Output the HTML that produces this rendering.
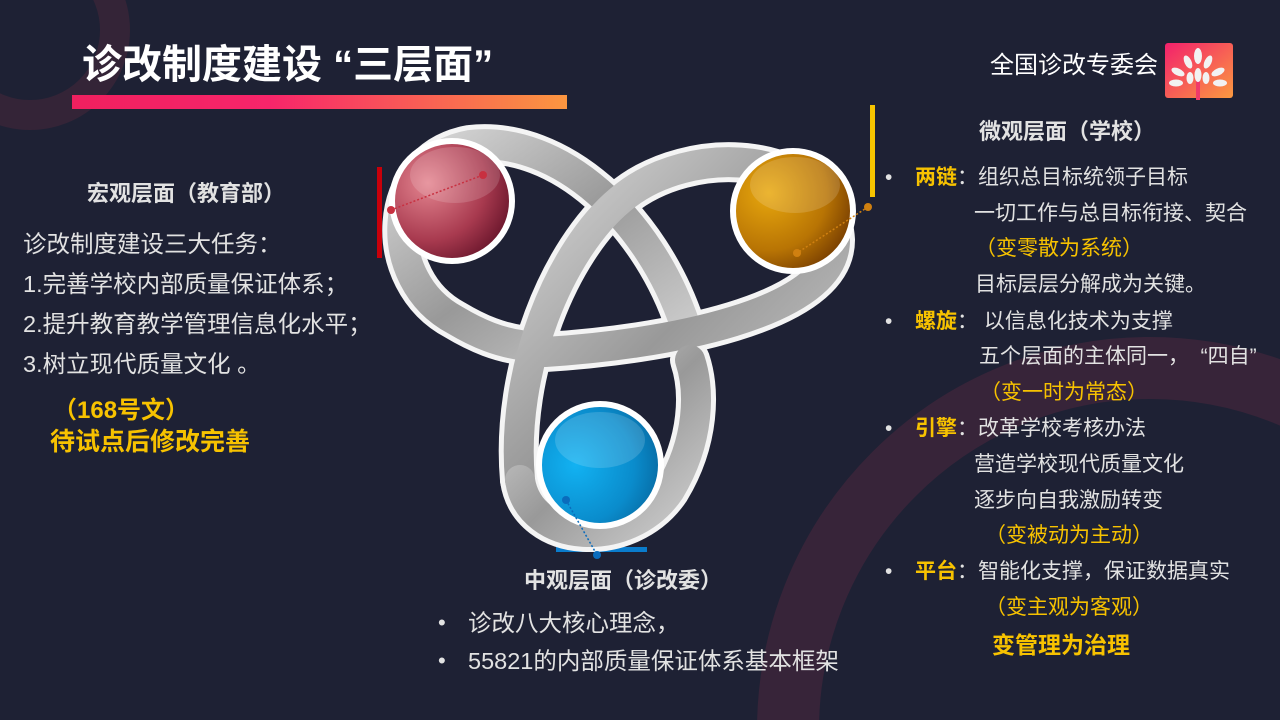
<!DOCTYPE html>
<html style="overflow:hidden"><head><meta charset="utf-8"><style>
html,body{margin:0;width:1280px;height:720px;overflow:hidden}
body{background:#1e2134;position:relative;font-family:"Liberation Sans","Noto Sans CJK SC",sans-serif;color:#e2e2e2}
.t{position:absolute;white-space:nowrap;line-height:1}
.y{color:#f7c200}
.b{font-weight:bold}
</style></head><body>
<svg width="1280" height="720" style="position:absolute;left:0;top:0;display:block">
<defs>
<linearGradient id="bar" x1="0" x2="1"><stop offset="0" stop-color="#f0205f"/><stop offset="0.4" stop-color="#f7256a"/><stop offset="1" stop-color="#fb9640"/></linearGradient>
<linearGradient id="logo" x1="0" x2="1" y1="0" y2="1"><stop offset="0" stop-color="#f2206c"/><stop offset="1" stop-color="#fb9a40"/></linearGradient>
<linearGradient id="band" x1="0" x2="1" y1="0" y2="1"><stop offset="0" stop-color="#d8d8d8"/><stop offset="0.5" stop-color="#999"/><stop offset="1" stop-color="#cfcfcf"/></linearGradient>
<radialGradient id="red" cx="0.3" cy="0.35" r="0.8"><stop offset="0" stop-color="#e48590"/><stop offset="0.6" stop-color="#a83a4f"/><stop offset="1" stop-color="#5e0f25"/></radialGradient>
<radialGradient id="gold" cx="0.3" cy="0.35" r="0.8"><stop offset="0" stop-color="#e8a80e"/><stop offset="0.6" stop-color="#b87404"/><stop offset="1" stop-color="#6b3300"/></radialGradient>
<radialGradient id="blue" cx="0.3" cy="0.5" r="0.8"><stop offset="0" stop-color="#12b2f2"/><stop offset="0.6" stop-color="#0a8ccc"/><stop offset="1" stop-color="#065f95"/></radialGradient>
</defs>
<circle cx="30" cy="30" r="85" fill="none" stroke="#342437" stroke-width="30"/>
<circle cx="1150" cy="730" r="362" fill="none" stroke="#372439" stroke-width="62"/>
<rect x="72" y="95" width="495" height="14" fill="url(#bar)"/>
<rect x="1165" y="43" width="68" height="55" rx="3" fill="url(#logo)"/>
<rect x="1196" y="70" width="4" height="30" fill="#f03a6a"/>
<g fill="#f2f2f2">
<ellipse cx="1198" cy="56" rx="4" ry="8"/><ellipse cx="1188" cy="62" rx="3.5" ry="7" transform="rotate(-25 1188 62)"/><ellipse cx="1208" cy="62" rx="3.5" ry="7" transform="rotate(25 1208 62)"/>
<ellipse cx="1178" cy="72" rx="7" ry="3.5" transform="rotate(25 1178 72)"/><ellipse cx="1218" cy="72" rx="7" ry="3.5" transform="rotate(-25 1218 72)"/>
<ellipse cx="1176" cy="83" rx="7" ry="3.5"/><ellipse cx="1220" cy="83" rx="7" ry="3.5"/><ellipse cx="1190" cy="78" rx="3.5" ry="6"/><ellipse cx="1206" cy="78" rx="3.5" ry="6"/><ellipse cx="1198" cy="75" rx="3.5" ry="7"/>
</g>
<rect x="870" y="105" width="5" height="92" fill="#f7c400"/>
<rect x="377" y="167" width="5" height="91" fill="#c8000a"/>
<rect x="556" y="547" width="91" height="5" fill="#0a7ccc"/>
<g fill="none" stroke-linecap="round">
<g stroke="#f4f4f4" stroke-width="40">
<path d="M685 325 C650 220 560 135 470 145 C385 160 380 280 455 320 C480 335 500 342 520 345"/>
<path d="M545 352 C660 345 835 315 835 240 C830 150 690 140 620 200 C560 250 510 370 520 480"/>
<path d="M520 480 C530 545 630 550 670 490 C700 440 700 390 690 360"/>
</g>
<g stroke="url(#band)" stroke-width="30">
<path d="M685 325 C650 220 560 135 470 145 C385 160 380 280 455 320 C480 335 500 342 520 345"/>
<path d="M545 352 C660 345 835 315 835 240 C830 150 690 140 620 200 C560 250 510 370 520 480"/>
<path d="M520 480 C530 545 630 550 670 490 C700 440 700 390 690 360"/>
</g>
</g>
<g stroke="#fff" stroke-width="6">
<circle cx="452" cy="201" r="60" fill="url(#red)"/>
<circle cx="793" cy="211" r="60" fill="url(#gold)"/>
<circle cx="600" cy="465" r="61" fill="url(#blue)"/>
</g>
<g fill="#fff" fill-opacity="0.15"><ellipse cx="455" cy="175" rx="45" ry="28"/><ellipse cx="795" cy="185" rx="45" ry="28"/><ellipse cx="600" cy="440" rx="45" ry="28"/></g>
<g stroke-dasharray="2 2" stroke-width="1.5">
<line x1="391" y1="210" x2="483" y2="175" stroke="#c83040"/>
<line x1="868" y1="207" x2="797" y2="253" stroke="#d08010"/>
<line x1="566" y1="500" x2="597" y2="555" stroke="#0a6cbc"/>
</g>
<circle cx="391" cy="210" r="4" fill="#c83040"/><circle cx="483" cy="175" r="4" fill="#c83040"/>
<circle cx="868" cy="207" r="4" fill="#d08010"/><circle cx="797" cy="253" r="4" fill="#d08010"/>
<circle cx="566" cy="500" r="4" fill="#0a6cbc"/><circle cx="597" cy="555" r="4" fill="#0a6cbc"/>
</svg>

<div class="t b" style="left:82px;top:45px;font-size:40px;color:#fff">诊改制度建设 “三层面”</div>
<div class="t" style="left:990px;top:54px;font-size:24px;color:#fff">全国诊改专委会</div>

<div class="t b" style="left:87px;top:183px;font-size:22px">宏观层面（教育部）</div>
<div class="t" style="left:23px;top:233px;font-size:23.5px">诊改制度建设三大任务：</div>
<div class="t" style="left:23px;top:273px;font-size:23.5px">1.完善学校内部质量保证体系；</div>
<div class="t" style="left:23px;top:313px;font-size:23.5px">2.提升教育教学管理信息化水平；</div>
<div class="t" style="left:23px;top:353px;font-size:23.5px">3.树立现代质量文化 。</div>
<div class="t b y" style="left:53px;top:399px;font-size:24px">（168号文）</div>
<div class="t b y" style="left:50px;top:430px;font-size:25px">待试点后修改完善</div>

<div class="t b" style="left:979px;top:121px;font-size:22px">微观层面（学校）</div>
<div class="t" style="left:885px;top:167px;font-size:21px">•</div>
<div class="t" style="left:915px;top:167px;font-size:21px"><span class="b y">两链</span>：组织总目标统领子目标</div>
<div class="t" style="left:974px;top:203px;font-size:21px">一切工作与总目标衔接、契合</div>
<div class="t y" style="left:975px;top:238px;font-size:21px">（变零散为系统）</div>
<div class="t" style="left:975px;top:274px;font-size:21px">目标层层分解成为关键。</div>
<div class="t" style="left:885px;top:311px;font-size:21px">•</div>
<div class="t" style="left:915px;top:311px;font-size:21px"><span class="b y">螺旋</span>：&nbsp;以信息化技术为支撑</div>
<div class="t" style="left:979px;top:346px;font-size:21px">五个层面的主体同一，&nbsp;&nbsp;“四自”</div>
<div class="t y" style="left:980px;top:382px;font-size:21px">（变一时为常态）</div>
<div class="t" style="left:885px;top:418px;font-size:21px">•</div>
<div class="t" style="left:915px;top:418px;font-size:21px"><span class="b y">引擎</span>：改革学校考核办法</div>
<div class="t" style="left:974px;top:454px;font-size:21px">营造学校现代质量文化</div>
<div class="t" style="left:974px;top:490px;font-size:21px">逐步向自我激励转变</div>
<div class="t y" style="left:985px;top:525px;font-size:21px">（变被动为主动）</div>
<div class="t" style="left:885px;top:561px;font-size:21px">•</div>
<div class="t" style="left:915px;top:561px;font-size:21px"><span class="b y">平台</span>：智能化支撑，保证数据真实</div>
<div class="t y" style="left:985px;top:597px;font-size:21px">（变主观为客观）</div>
<div class="t b y" style="left:992px;top:634px;font-size:23px">变管理为治理</div>

<div class="t b" style="left:524px;top:570px;font-size:22px">中观层面（诊改委）</div>
<div class="t" style="left:438px;top:612px;font-size:22px">•</div>
<div class="t" style="left:468px;top:612px;font-size:23.5px">诊改八大核心理念，</div>
<div class="t" style="left:438px;top:650px;font-size:22px">•</div>
<div class="t" style="left:468px;top:650px;font-size:23.5px">55821的内部质量保证体系基本框架</div>
</body></html>
